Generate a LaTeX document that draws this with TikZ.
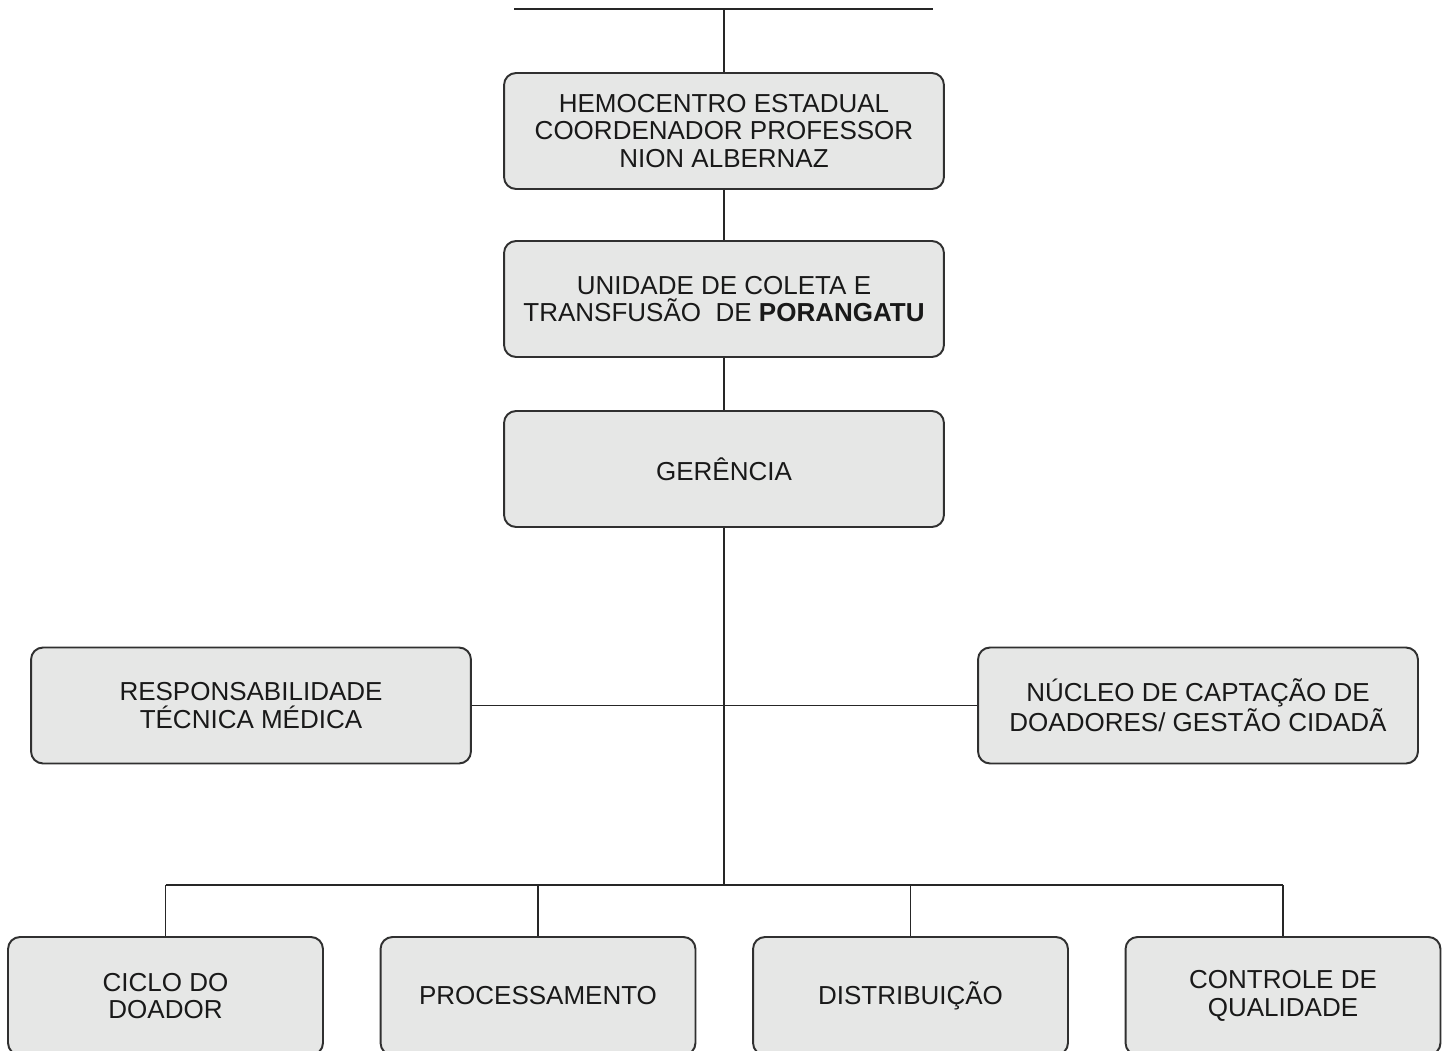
\documentclass[tikz,border=0pt]{standalone}
\usepackage{fontspec}
\setmainfont{Liberation Sans}
\definecolor{boxfill}{HTML}{E6E7E6}
\definecolor{boxline}{HTML}{303030}
\begin{document}
\begin{tikzpicture}[x=0.02cm,y=-0.02cm,
  orgbox/.style={draw=boxline, fill=boxfill, line width=1.1pt, rounded corners=0.24cm,
    align=center, font=\fontsize{14.8}{15.7}\selectfont, inner sep=0pt, text=black!90},
  wide/.style={orgbox, minimum width=8.8cm, minimum height=2.32cm},
  small/.style={orgbox, minimum width=6.3cm, minimum height=2.36cm},
  conn/.style={line width=1.1pt, draw=black!85}]
\path[use as bounding box] (0,0) rectangle (1451,1051);
\clip (0,0) rectangle (1451,1051);
\fill[white] (0,0) rectangle (1451,1051);
% coordinates
\coordinate (tl) at (514,9);
\coordinate (tr) at (933,9);
\coordinate (top) at (724,9);
\coordinate (bus) at (724,885);
\coordinate (bl) at (165.5,885);
\coordinate (br) at (1283,885);
% nodes
\node[wide] (b1) at (724,131) {HEMOCENTRO ESTADUAL\\COORDENADOR PROFESSOR\\NION ALBERNAZ};
\node[wide] (b2) at (724,299) {UNIDADE DE COLETA E\\TRANSFUSÃO\ \ DE \textbf{PORANGATU}};
\node[wide] (b3) at (724,469) {GERÊNCIA};
\node[wide] (left) at (251,705.5) {RESPONSABILIDADE\\TÉCNICA MÉDICA};
\node[wide] (right) at (1198,705.5) {NÚCLEO DE CAPTAÇÃO DE\\DOADORES/ GESTÃO CIDADÃ};
\node[small] (c1) at (165.5,996) {CICLO DO\\DOADOR};
\node[small] (c2) at (538,996) {PROCESSAMENTO};
\node[small] (c3) at (910.5,996) {DISTRIBUIÇÃO};
\node[small] (c4) at (1283,996) {CONTROLE DE\\QUALIDADE};
% connectors
\draw[conn] (tl) -- (tr);
\draw[conn] (top) -- (b1.north);
\draw[conn] (b1.south) -- (b2.north);
\draw[conn] (b2.south) -- (b3.north);
\draw[conn] (b3.south) -- (bus);
\draw[conn] (left.east) -- (right.west);
\draw[conn] (bl) -- (br);
\draw[conn] (bl) -- (c1.north);
\draw[conn] (c2.north |- bus) -- (c2.north);
\draw[conn] (c3.north |- bus) -- (c3.north);
\draw[conn] (br) -- (c4.north);
\end{tikzpicture}
\end{document}
